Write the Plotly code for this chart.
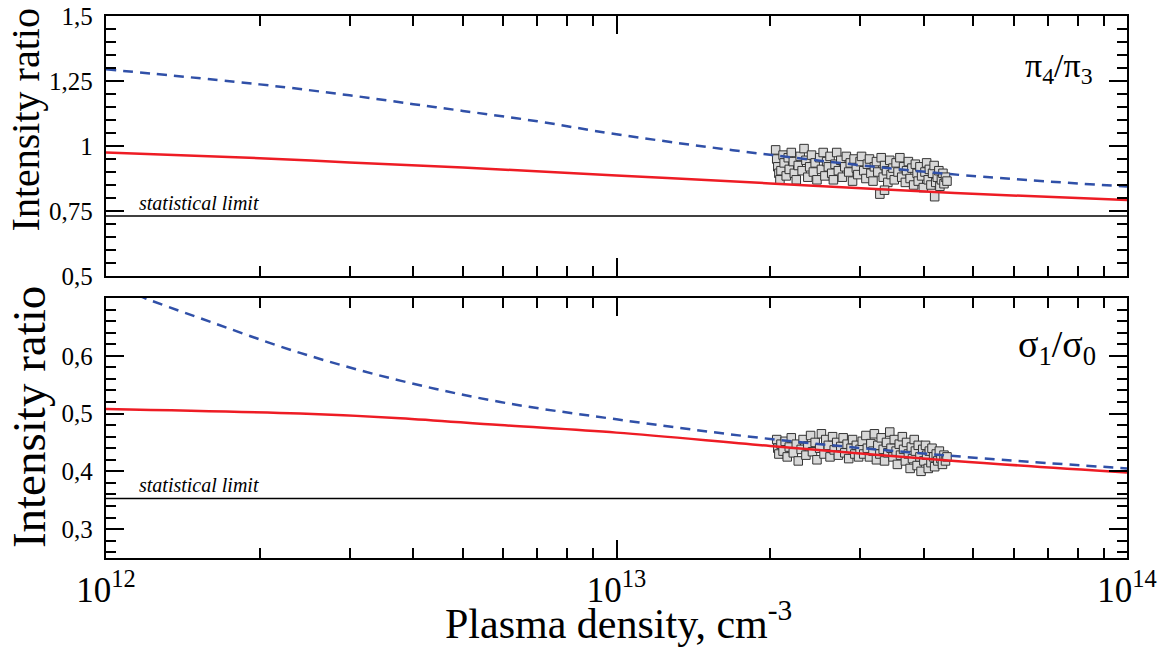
import plotly.graph_objects as go
from plotly.subplots import make_subplots

# ---------------- data ----------------
# model curves (density in cm^-3)
top_dashed_n = [1e12, 2e12, 3e12, 4e12, 5e12, 7e12, 1e13, 2e13, 4.5e13, 1e14]
top_dashed_v = [1.295, 1.237, 1.195, 1.161, 1.135, 1.095, 1.045, 0.966, 0.892, 0.844]
top_solid_n = [1e12, 2e12, 3e12, 5e12, 1e13, 2e13, 4.6e13, 1e14]
top_solid_v = [0.975, 0.953, 0.937, 0.917, 0.887, 0.856, 0.819, 0.792]

bot_dashed_n = [1e12, 1.19e12, 1.53e12, 2.4e12, 3.77e12, 5.92e12, 1e13, 2e13, 4.5e13, 1e14]
bot_dashed_v = [0.728, 0.700, 0.665, 0.605, 0.557, 0.520, 0.490, 0.456, 0.427, 0.405]
bot_solid_n = [1e12, 2.4e12, 3.77e12, 5.92e12, 1e13, 2e13, 4.6e13, 1e14]
bot_solid_v = [0.508, 0.500, 0.492, 0.480, 0.467, 0.444, 0.418, 0.398]

stat_limit_n = [1e12, 1e14]
stat_limit_top = [0.731, 0.731]
stat_limit_bot = [0.353, 0.353]

# measured points (density in units of 1e13 cm^-3)
top_pts_x = [2.05, 2.06, 2.07, 2.08, 2.09, 2.1, 2.12, 2.13, 2.15, 2.17, 2.18, 2.2, 2.22, 2.23, 2.25, 2.27,
             2.29, 2.31, 2.33, 2.35, 2.37, 2.39, 2.41, 2.43, 2.45, 2.47, 2.5, 2.52, 2.54, 2.56, 2.58, 2.6,
             2.62, 2.64, 2.66, 2.68, 2.7, 2.72, 2.75, 2.77, 2.8, 2.82, 2.85, 2.87, 2.9, 2.92, 2.95, 2.97,
             3.0, 3.02, 3.05, 3.08, 3.1, 3.13, 3.15, 3.18, 3.2, 3.23, 3.25, 3.28, 3.3, 3.33, 3.35, 3.38,
             3.4, 3.43, 3.45, 3.48, 3.5, 3.53, 3.56, 3.59, 3.62, 3.65, 3.68, 3.7, 3.73, 3.76, 3.79, 3.82,
             3.85, 3.88, 3.9, 3.93, 3.96, 3.99, 4.02, 4.05, 4.08, 4.1, 4.13, 4.16, 4.19, 4.22, 4.25, 4.28,
             4.3, 4.33, 4.36, 4.38, 4.41, 4.44, 4.2, 3.35]
top_pts_y = [0.985, 0.95, 0.92, 0.895, 0.87, 0.905, 0.965, 0.935, 0.885, 0.955, 0.91, 0.975, 0.94, 0.895, 0.87, 0.925,
             0.96, 0.905, 0.99, 0.945, 0.88, 0.92, 0.965, 0.9, 0.935, 0.87, 0.955, 0.91, 0.975, 0.885, 0.94, 0.92,
             0.96, 0.895, 0.87, 0.93, 0.975, 0.905, 0.945, 0.88, 0.92, 0.96, 0.9, 0.935, 0.865, 0.95, 0.915, 0.89,
             0.94, 0.96, 0.905, 0.875, 0.93, 0.95, 0.895, 0.865, 0.92, 0.94, 0.9, 0.815, 0.955, 0.88, 0.925, 0.905,
             0.86, 0.945, 0.89, 0.915, 0.87, 0.935, 0.9, 0.955, 0.88, 0.92, 0.86, 0.905, 0.94, 0.875, 0.915, 0.85,
             0.93, 0.895, 0.865, 0.92, 0.885, 0.84, 0.9, 0.935, 0.87, 0.91, 0.85, 0.895, 0.925, 0.86, 0.88, 0.905,
             0.845, 0.87, 0.895, 0.855, 0.88, 0.865, 0.805, 0.83]

bot_pts_x = [2.06, 2.07, 2.08, 2.1, 2.12, 2.14, 2.16, 2.18, 2.2, 2.22, 2.25, 2.27, 2.3, 2.32, 2.35, 2.37,
             2.4, 2.42, 2.45, 2.47, 2.5, 2.52, 2.55, 2.57, 2.6, 2.62, 2.65, 2.67, 2.7, 2.72, 2.75, 2.78,
             2.8, 2.83, 2.85, 2.88, 2.9, 2.93, 2.95, 2.98, 3.0, 3.03, 3.05, 3.08, 3.1, 3.13, 3.15, 3.18,
             3.2, 3.23, 3.25, 3.28, 3.3, 3.33, 3.35, 3.38, 3.4, 3.43, 3.45, 3.48, 3.5, 3.53, 3.55, 3.58,
             3.6, 3.63, 3.65, 3.68, 3.7, 3.73, 3.76, 3.78, 3.8, 3.83, 3.85, 3.88, 3.9, 3.93, 3.95, 3.98,
             4.0, 4.03, 4.05, 4.08, 4.1, 4.13, 4.15, 4.18, 4.2, 4.23, 4.26, 4.29, 4.32, 4.35, 4.38, 4.41, 4.44]
bot_pts_y = [0.455, 0.44, 0.43, 0.447, 0.435, 0.452, 0.425, 0.442, 0.458, 0.432, 0.447, 0.418, 0.438, 0.455, 0.428, 0.444,
             0.462, 0.434, 0.45, 0.42, 0.44, 0.465, 0.43, 0.455, 0.445, 0.425, 0.46, 0.437, 0.45, 0.428, 0.443, 0.458,
             0.432, 0.447, 0.422, 0.44, 0.455, 0.43, 0.445, 0.425, 0.438, 0.452, 0.43, 0.462, 0.44, 0.425, 0.448, 0.435,
             0.465, 0.42, 0.445, 0.43, 0.458, 0.438, 0.418, 0.45, 0.432, 0.468, 0.44, 0.425, 0.455, 0.435, 0.412, 0.447,
             0.428, 0.46, 0.438, 0.418, 0.45, 0.43, 0.405, 0.442, 0.422, 0.455, 0.435, 0.41, 0.445, 0.425, 0.40, 0.438,
             0.418, 0.445, 0.428, 0.405, 0.435, 0.415, 0.44, 0.425, 0.408, 0.43, 0.418, 0.435, 0.422, 0.412, 0.428, 0.418, 0.425]

top_ticks = [0.5, 0.75, 1.0, 1.25, 1.5]
top_ticktext = ["0,5", "0,75", "1", "1,25", "1,5"]
bot_ticks = [0.3, 0.4, 0.5, 0.6]
bot_ticktext = ["0,3", "0,4", "0,5", "0,6"]
x_ticks = [1e12, 1e13, 1e14]
x_ticktext = ["10<sup>12</sup>", "10<sup>13</sup>", "10<sup>14</sup>"]
x_minor = [m * 10 ** e for e in (12, 13) for m in range(2, 10)]

# ---------------- figure ----------------
FONT = "Liberation Serif"
BLUE = "#3050a8"
RED = "#ee1c24"
PAD = "\u00a0"  # small gap between y tick labels and the axis

fig = make_subplots(rows=2, cols=1, shared_xaxes=True, vertical_spacing=0.0406)

panels = [
    (1, top_dashed_n, top_dashed_v, top_solid_n, top_solid_v, stat_limit_top, top_pts_x, top_pts_y),
    (2, bot_dashed_n, bot_dashed_v, bot_solid_n, bot_solid_v, stat_limit_bot, bot_pts_x, bot_pts_y),
]
for row, dn, dv, sn, sv, sl, px, py in panels:
    fig.add_trace(go.Scatter(x=stat_limit_n, y=sl, mode="lines",
                             line=dict(color="black", width=1.5), hoverinfo="skip"), row=row, col=1)
    fig.add_trace(go.Scatter(x=[v * 1e13 for v in px], y=py, mode="markers",
                             marker=dict(symbol="square", size=8.5, color="#d8d8d8",
                                         line=dict(color="#333333", width=1))), row=row, col=1)
    fig.add_trace(go.Scatter(x=sn, y=sv, mode="lines", line_shape="spline",
                             line=dict(color=RED, width=2.5)), row=row, col=1)
    fig.add_trace(go.Scatter(x=dn, y=dv, mode="lines", line_shape="spline",
                             line=dict(color=BLUE, width=2.5, dash="10px,7px")), row=row, col=1)

axis_common = dict(showline=True, linecolor="black", linewidth=2, mirror="ticks", automargin=False,
                   ticks="inside", tickcolor="black", tickwidth=1.5, showgrid=False, zeroline=False)

for r in (1, 2):
    fig.update_xaxes(type="log", range=[12, 14], tickvals=x_ticks, ticktext=x_ticktext, ticklen=18,
                     minor=dict(tickvals=x_minor, ticklen=10, ticks="inside", tickcolor="black", tickwidth=1.5),
                     tickfont=dict(family=FONT, size=35, color="black"),
                     showticklabels=(r == 2), row=r, col=1, **axis_common)

fig.update_yaxes(range=[0.5, 1.5], tickvals=top_ticks, ticktext=[t + PAD for t in top_ticktext], ticklen=18,
                 minor=dict(dtick=0.05, tick0=0, ticklen=10, ticks="inside", tickcolor="black", tickwidth=1.5),
                 tickfont=dict(family=FONT, size=25, color="black"),
                 row=1, col=1, **axis_common)
fig.update_yaxes(range=[0.25, 0.70], tickvals=bot_ticks, ticktext=[t + PAD for t in bot_ticktext], ticklen=18,
                 minor=dict(dtick=0.02, tick0=0, ticklen=10, ticks="inside", tickcolor="black", tickwidth=1.5),
                 tickfont=dict(family=FONT, size=25, color="black"),
                 row=2, col=1, **axis_common)

fig.update_layout(
    width=1164, height=647,
    margin=dict(l=106, r=37, t=16, b=89),
    paper_bgcolor="white", plot_bgcolor="white",
    showlegend=False,
    font=dict(family=FONT, color="black"),
    annotations=[
        dict(text="Intensity ratio", textangle=-90, xref="paper", yref="paper",
             x=-0.079, y=0.808, xanchor="center", yanchor="middle", showarrow=False,
             font=dict(family=FONT, size=40)),
        dict(text="Intensity ratio", textangle=-90, xref="paper", yref="paper",
             x=-0.0754, y=0.26, xanchor="center", yanchor="middle", showarrow=False,
             font=dict(family=FONT, size=47)),
        dict(text="Plasma density, cm<sup>-3</sup>", xref="paper", yref="paper",
             x=0.502, y=-0.116, xanchor="center", yanchor="middle", showarrow=False,
             font=dict(family=FONT, size=42)),
        dict(text="π<sub>4</sub>/π<sub>3</sub>", xref="paper", yref="paper",
             x=0.9687, y=0.904, xanchor="right", yanchor="middle", showarrow=False,
             font=dict(family=FONT, size=34)),
        dict(text="σ<sub>1</sub>/σ<sub>0</sub>", xref="paper", yref="paper",
             x=0.972, y=0.389, xanchor="right", yanchor="middle", showarrow=False,
             font=dict(family=FONT, size=38)),
        dict(text="<i>statistical limit</i>", xref="x", yref="y",
             x=12.06, y=0.731, xanchor="left", yanchor="bottom", showarrow=False,
             font=dict(family=FONT, size=20)),
        dict(text="<i>statistical limit</i>", xref="x2", yref="y2",
             x=12.06, y=0.353, xanchor="left", yanchor="bottom", showarrow=False,
             font=dict(family=FONT, size=20)),
    ],
)

fig.write_html("out.html", config={"displayModeBar": False},
               post_script="document.body.style.margin='0';document.body.style.overflow='hidden';")
